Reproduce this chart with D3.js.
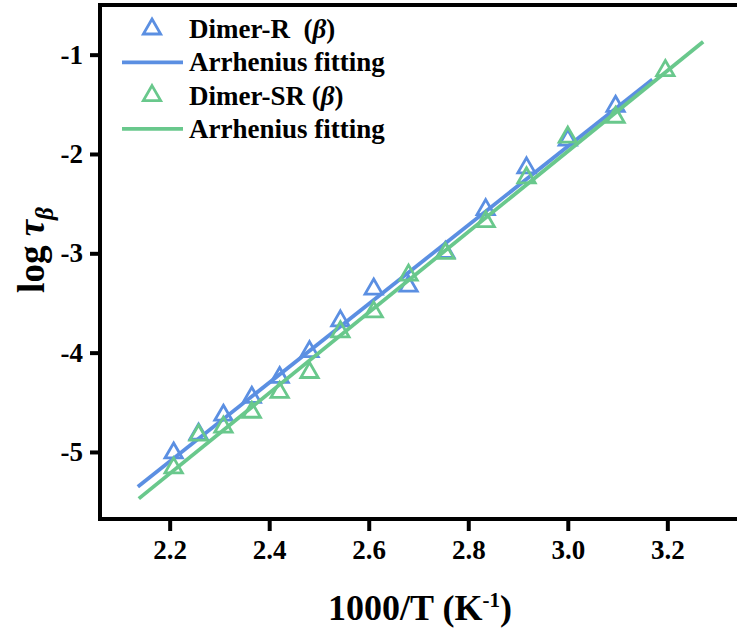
<!DOCTYPE html>
<html>
<head>
<meta charset="utf-8">
<script src="https://cdn.jsdelivr.net/npm/d3@7"></script>
<style>
  body { margin: 0; background: #fff; }
  text { font-family: "Liberation Serif", "Times New Roman", serif; font-weight: bold; }
</style>
</head>
<body>
<div id="graph_here"></div>
<script>
// 1000/T values (T = 453 ... 313 K, 10 K steps)
const invT = [2.208, 2.258, 2.308, 2.365, 2.421, 2.481, 2.543, 2.61, 2.68, 2.754, 2.835, 2.917, 3.0, 3.096, 3.196];
// log tau_beta, Dimer-R (no point at the last temperature)
const dimerR = [-5.01, -4.82, -4.63, -4.45, -4.25, -3.99, -3.68, -3.36, -3.33, -2.99, -2.56, -2.14, -1.86, -1.52, null];
// log tau_beta, Dimer-SR
const dimerSR = [-5.16, -4.83, -4.75, -4.60, -4.40, -4.20, -3.79, -3.59, -3.22, -3.00, -2.68, -2.24, -1.83, -1.63, -1.16];
// Arrhenius fit end points [1000/T, log tau]
const fitR = [[2.136, -5.35], [3.17, -1.25]];
const fitSR = [[2.138, -5.47], [3.272, -0.87]];
const xTicks = [2.2, 2.4, 2.6, 2.8, 3.0, 3.2];
const yTicks = [-1, -2, -3, -4, -5];
const legendRows = ["Dimer-R", "Arrhenius fitting", "Dimer-SR", "Arrhenius fitting"];

function drawChart(){
    const width = 737, height = 635;
    const blue = "#5b8fe2", green = "#69c88c";

    const svg = d3.select('#graph_here')
        .append('svg')
        .attr("width", width)
        .attr("height", height);

    const x = d3.scaleLinear().domain([2.06, 3.34]).range([100, 737]);
    const y = d3.scaleLinear().domain([-5.675, -0.5]).range([519, 5]);

    // frame (right side runs off the picture)
    svg.append("path")
        .attr("d", "M745,5H100V519H745")
        .attr("fill", "none")
        .attr("stroke", "#000")
        .attr("stroke-width", 4);

    const xAxis = d3.axisBottom(x).tickValues(xTicks).tickFormat(d3.format(".1f")).tickSize(12).tickPadding(9);
    const yAxis = d3.axisLeft(y).tickValues(yTicks).tickFormat(d => "-" + Math.abs(d)).tickSize(10).tickPadding(7);

    const gx = svg.append("g").attr("transform", "translate(0,519)").call(xAxis);
    const gy = svg.append("g").attr("transform", "translate(100,0)").call(yAxis);
    [gx, gy].forEach(g => {
        g.select(".domain").remove();
        g.attr("font-size", null).attr("font-family", null);
        g.selectAll(".tick line").attr("stroke", "#000").attr("stroke-width", 4);
        g.selectAll(".tick text").attr("fill", "#000").style("font-size", "27px");
    });

    // axis titles
    svg.append("text")
        .attr("x", 420).attr("y", 620)
        .attr("text-anchor", "middle")
        .style("font-size", "36px")
        .call(t => {
            t.append("tspan").text("1000/T (K");
            t.append("tspan").attr("dy", -13).style("font-size", "21px").text("-1");
            t.append("tspan").attr("dy", 13).text(")");
        });

    svg.append("text")
        .attr("transform", "translate(44,250) rotate(-90)")
        .attr("text-anchor", "middle")
        .style("font-size", "37px")
        .call(t => {
            t.append("tspan").text("log ");
            t.append("tspan").style("font-style", "italic").text("\u03c4");
            t.append("tspan").attr("dy", 9).style("font-style", "italic").style("font-size", "25px").text("\u03b2");
        });

    const tri = d3.symbol().type(d3.symbolTriangle).size(130);
    const line = d3.line().x(d => x(d[0])).y(d => y(d[1]));

    function series(vals, fit, color){
        const pts = invT.map((v, i) => [v, vals[i]]).filter(d => d[1] !== null);
        svg.append("g").selectAll("path")
            .data(pts)
            .enter()
            .append("path")
            .attr("d", tri)
            .attr("transform", d => "translate(" + x(d[0]) + "," + y(d[1]) + ")")
            .attr("fill", "none")
            .attr("stroke", color)
            .attr("stroke-width", 2.8);
        svg.append("path")
            .attr("d", line(fit))
            .attr("fill", "none")
            .attr("stroke", color)
            .attr("stroke-width", 3.8);
    }
    series(dimerR, fitR, blue);
    series(dimerSR, fitSR, green);

    // legend
    const legend = svg.append("g");
    const rowY = i => 29 + i * 33.3;
    legendRows.forEach((label, i) => {
        const color = i < 2 ? blue : green;
        if (i % 2 === 0) {
            legend.append("path")
                .attr("d", tri)
                .attr("transform", "translate(152," + rowY(i) + ")")
                .attr("fill", "none")
                .attr("stroke", color)
                .attr("stroke-width", 2.8);
        } else {
            legend.append("line")
                .attr("x1", 122).attr("x2", 183)
                .attr("y1", rowY(i)).attr("y2", rowY(i))
                .attr("stroke", color)
                .attr("stroke-width", 3.8);
        }
        const t = legend.append("text")
            .attr("x", 189).attr("y", rowY(i) + 9)
            .style("font-size", "27px");
        t.append("tspan").text(label);
        if (i % 2 === 0) {
            t.append("tspan").text(i === 0 ? "\u00a0 (" : " (");
            t.append("tspan").style("font-style", "italic").text("\u03b2");
            t.append("tspan").text(")");
        }
    });
}

window.addEventListener('load', drawChart);
</script>
</body>
</html>
